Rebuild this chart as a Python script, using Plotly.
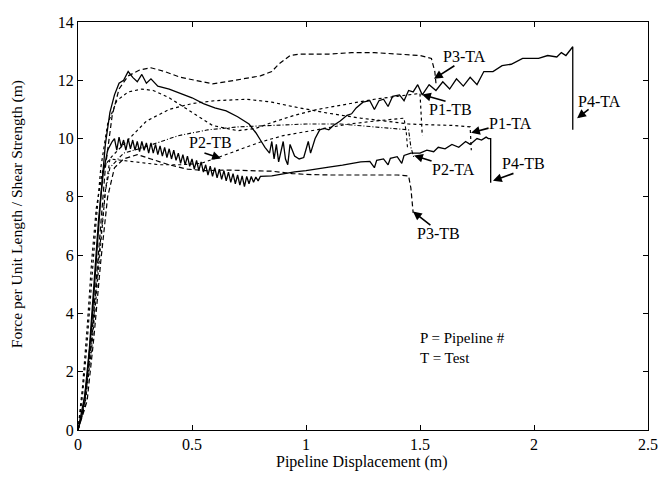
import plotly.graph_objects as go

# ---------------- data ----------------
p4ta_x = [0, 0.02, 0.04, 0.06, 0.08, 0.10, 0.12, 0.14, 0.16, 0.18, 0.20, 0.22, 0.24, 0.26, 0.28, 0.30,
          0.32, 0.35, 0.40, 0.45, 0.50, 0.55, 0.60, 0.65, 0.70, 0.75, 0.78, 0.80, 0.82, 0.84, 0.85, 0.86,
          0.87, 0.88, 0.90, 0.91, 0.92, 0.93, 0.95, 0.97, 0.99, 1.01, 1.02, 1.04, 1.06, 1.08, 1.10, 1.12,
          1.15, 1.18, 1.20, 1.22, 1.25, 1.28, 1.30, 1.32, 1.34, 1.36, 1.38, 1.41, 1.43, 1.45, 1.47, 1.49,
          1.51, 1.54, 1.57, 1.60, 1.63, 1.66, 1.69, 1.72, 1.75, 1.78, 1.82, 1.86, 1.90, 1.95, 1.98, 2.02,
          2.06, 2.10, 2.12, 2.14, 2.17, 2.17]
p4ta_y = [0, 0.6, 1.8, 3.6, 5.8, 8.0, 9.8, 10.9, 11.5, 11.9, 12.0, 12.3, 12.1, 11.95, 12.2, 11.9,
          12.05, 11.8, 11.7, 11.55, 11.4, 11.2, 11.05, 10.95, 10.75, 10.5, 10.2, 9.95, 9.7, 9.5, 9.9, 9.3,
          9.8, 9.2, 9.9, 9.3, 9.1, 9.8, 9.4, 9.3, 9.35, 9.9, 9.5, 10.0, 10.3, 10.35, 10.3, 10.45,
          10.6, 10.8, 10.85, 11.05, 11.25, 11.3, 11.0, 11.3, 11.35, 11.1, 11.45, 11.5, 11.3, 11.65, 11.6, 11.85,
          11.5, 11.85, 11.65, 11.95, 11.7, 12.05, 11.8, 12.1, 11.85, 12.3, 12.3, 12.5, 12.55, 12.75, 12.75, 12.75,
          12.85, 12.8, 12.95, 12.85, 13.15, 10.3]

p4tb_x = [0, 0.03, 0.05, 0.07, 0.09, 0.11, 0.13, 0.15,
          0.16, 0.17, 0.18, 0.19, 0.20, 0.21, 0.22, 0.23, 0.24, 0.25, 0.26, 0.27, 0.28, 0.29, 0.30, 0.31,
          0.32, 0.33, 0.34, 0.35, 0.36, 0.37, 0.38, 0.39, 0.40, 0.41, 0.42, 0.43, 0.44, 0.45, 0.46, 0.47,
          0.48, 0.49, 0.50, 0.51, 0.52, 0.53, 0.54, 0.55, 0.56, 0.57, 0.58, 0.59, 0.60, 0.61, 0.62, 0.63,
          0.64, 0.65, 0.66, 0.67, 0.68, 0.69, 0.70, 0.71, 0.72, 0.73, 0.74, 0.75, 0.76, 0.77, 0.78, 0.79,
          0.80, 0.85, 0.90, 0.95, 1.00, 1.05, 1.10, 1.16, 1.20, 1.24, 1.28, 1.30, 1.31, 1.34, 1.36, 1.37,
          1.40, 1.42, 1.43, 1.46, 1.50, 1.53, 1.56, 1.58, 1.61, 1.64, 1.67, 1.70, 1.72, 1.75, 1.77, 1.79,
          1.80, 1.81, 1.81]
p4tb_y = [0, 1.2, 2.8, 5.0, 7.2, 8.8, 9.6, 9.9,
          10.0, 9.6, 10.05, 9.7, 9.95, 9.6, 10.0, 9.65, 9.95, 9.6, 9.9, 9.55, 9.9, 9.6, 9.85, 9.5,
          9.85, 9.5, 9.8, 9.45, 9.75, 9.4, 9.7, 9.35, 9.65, 9.3, 9.6, 9.25, 9.5, 9.15, 9.45, 9.1,
          9.4, 9.05, 9.3, 8.95, 9.25, 8.9, 9.2, 8.85, 9.1, 8.75, 9.05, 8.7, 9.0, 8.65, 8.95, 8.6,
          8.9, 8.55, 8.85, 8.5, 8.8, 8.45, 8.75, 8.4, 8.72, 8.35, 8.7, 8.45, 8.7, 8.5, 8.68, 8.55,
          8.7, 8.72, 8.8, 8.86, 8.9, 8.95, 9.02, 9.09, 9.15, 9.2, 9.22, 9.0, 9.25, 9.3, 9.1, 9.32,
          9.38, 9.15, 9.42, 9.5, 9.5, 9.6, 9.55, 9.7, 9.65, 9.8, 9.7, 9.9, 9.8, 10.0, 9.95, 10.05,
          10.0, 10.0, 8.48]

p3ta_x = [0, 0.03, 0.06, 0.09, 0.12, 0.15, 0.18, 0.22, 0.27, 0.32, 0.38, 0.45, 0.52, 0.59, 0.65,
          0.72, 0.80, 0.85, 0.88, 0.93, 0.97, 1.10, 1.20, 1.30, 1.40, 1.50, 1.55, 1.565, 1.57]
p3ta_y = [0, 1.0, 3.2, 6.2, 9.0, 10.8, 11.7, 12.15, 12.35, 12.43, 12.3, 12.1, 12.0, 11.88, 11.95,
          12.05, 12.15, 12.3, 12.55, 12.85, 12.9, 12.9, 12.95, 12.95, 12.9, 12.85, 12.75, 12.3, 11.9]

p3tb_x = [0, 0.04, 0.07, 0.10, 0.13, 0.16, 0.20, 0.26, 0.32, 0.40, 0.48, 0.56, 0.65, 0.75, 0.85,
          0.94, 1.00, 1.10, 1.20, 1.30, 1.40, 1.45, 1.46, 1.47]
p3tb_y = [0, 1.0, 3.2, 5.8, 8.0, 9.0, 9.3, 9.45, 9.3, 9.1, 8.95, 8.9, 8.92, 8.9, 8.88,
          8.8, 8.77, 8.75, 8.75, 8.75, 8.75, 8.72, 8.3, 7.45]

p1ta_x = [0, 0.02, 0.04, 0.06, 0.08, 0.11, 0.15, 0.20, 0.25, 0.30, 0.40, 0.50, 0.60, 0.74, 0.85,
          0.94, 1.09, 1.24, 1.35, 1.45, 1.55, 1.65, 1.72, 1.725]
p1ta_y = [0, 1.5, 3.5, 5.8, 7.6, 9.0, 9.4, 9.8, 10.2, 10.6, 11.0, 11.2, 11.3, 11.35, 11.25,
          11.1, 10.88, 10.7, 10.6, 10.5, 10.47, 10.45, 10.4, 9.6]

p1tb_x = [0, 0.02, 0.04, 0.06, 0.08, 0.10, 0.13, 0.17, 0.22, 0.28, 0.33, 0.40, 0.50, 0.59, 0.70,
          0.78, 0.85, 0.95, 1.05, 1.19, 1.30, 1.40, 1.50, 1.51]
p1tb_y = [0, 1.2, 3.0, 5.2, 7.2, 9.0, 10.5, 11.3, 11.6, 11.7, 11.65, 11.4, 10.9, 10.45, 10.27,
          10.35, 10.55, 10.8, 11.0, 11.2, 11.35, 11.45, 11.55, 10.1]

p2ta_x = [0, 0.03, 0.06, 0.09, 0.12, 0.14, 0.20, 0.29, 0.44, 0.57, 0.70, 0.85, 1.00, 1.15, 1.30,
          1.43, 1.45, 1.46, 1.47, 1.475]
p2ta_y = [0, 0.9, 3.0, 5.8, 8.2, 9.0, 9.5, 9.7, 10.1, 10.3, 10.4, 10.45, 10.5, 10.5, 10.4,
          10.33, 10.3, 9.7, 9.45, 9.3]

p2tb_x = [0, 0.03, 0.06, 0.09, 0.12, 0.14, 0.20, 0.30, 0.36, 0.45, 0.54, 0.62, 0.70, 0.80, 0.90,
          0.97, 1.09, 1.19, 1.30, 1.43, 1.44, 1.445]
p2tb_y = [0, 0.8, 2.8, 5.5, 8.2, 9.3, 9.25, 9.15, 9.1, 9.1, 9.15, 9.37, 9.6, 9.88, 10.1,
          10.2, 10.38, 10.5, 10.6, 10.7, 10.2, 9.7]

x_ticks = [0, 0.5, 1, 1.5, 2, 2.5]
x_tick_text = ["0", "0.5", "1", "1.5", "2", "2.5"]
y_ticks = [0, 2, 4, 6, 8, 10, 12, 14]

x_title = "Pipeline Displacement (m)"
y_title = "Force per Unit Length / Shear Strength (m)"

# labels: text, text position (x, y), arrow tip (x, y), arrow tail offset in px (ax, ay)
label_text = ["P3-TA", "P1-TB", "P1-TA", "P2-TA", "P4-TB", "P4-TA", "P2-TB", "P3-TB"]
label_pos_x = [1.693, 1.632, 1.895, 1.645, 1.952, 2.289, 0.579, 1.579]
label_pos_y = [12.81, 11.0, 10.53, 8.95, 9.15, 11.27, 9.86, 6.73]
arrow_tip_x = [1.561, 1.509, 1.724, 1.474, 1.820, 2.189, 0.627, 1.469]
arrow_tip_y = [12.05, 11.51, 10.20, 9.42, 8.55, 10.70, 9.32, 7.50]
arrow_ax = [22, 25, 19, 19, 22, 13, -18, 19]
arrow_ay = [-14, 7, -5, 6, -8, -10, -6, 15]

FONT = "Liberation Serif, Times New Roman, serif"

# page body has an 8px default margin; compensate so the plot area sits at
# x 78..648 and y 14..430 inside the 667x479 window
BODY = 8
PL, PR, PT, PB = 78, 648, 14, 430
W, H = 667 - BODY, 479 - BODY
PW, PH = PR - PL, PB - PT

fig = go.Figure()

def add(x, y, dash, width=1.2):
    fig.add_trace(go.Scatter(x=x, y=y, mode="lines",
                             line=dict(color="black", width=width, dash=dash),
                             showlegend=False, hoverinfo="skip"))

add(p1ta_x, p1ta_y, "dot", 1.2)
add(p1tb_x, p1tb_y, "dot", 1.2)
add(p2ta_x, p2ta_y, "4px,2px,1px,2px", 1.1)
add(p2tb_x, p2tb_y, "3px,3px", 1.1)
add(p3ta_x, p3ta_y, "5px,3px", 1.2)
add(p3tb_x, p3tb_y, "5px,3px", 1.2)
add(p4ta_x, p4ta_y, "solid", 1.3)
add(p4tb_x, p4tb_y, "solid", 1.3)

axis_common = dict(showline=True, linecolor="black", linewidth=1, mirror="ticks",
                   ticks="inside", ticklen=5, tickcolor="black", tickwidth=1,
                   showgrid=False, zeroline=False, ticklabeloverflow="allow",
                   tickfont=dict(family=FONT, size=16, color="black"))

fig.update_xaxes(range=[0, 2.5], tickvals=x_ticks, ticktext=x_tick_text, **axis_common)
fig.update_yaxes(range=[0, 14], tickvals=y_ticks, **axis_common)

annotations = []
for i in range(len(label_text)):
    annotations.append(dict(x=label_pos_x[i], y=label_pos_y[i], xref="x", yref="y",
                            text=label_text[i], showarrow=False,
                            font=dict(family=FONT, size=16, color="black")))
    annotations.append(dict(x=arrow_tip_x[i], y=arrow_tip_y[i], xref="x", yref="y",
                            text="", showarrow=True, ax=arrow_ax[i], ay=arrow_ay[i],
                            arrowhead=2, arrowsize=1.1, arrowwidth=1.6, arrowcolor="black",
                            standoff=0, startstandoff=0))

annotations.append(dict(x=(418 - PL) / PW, y=(PB - 339) / PH, xref="paper", yref="paper",
                        text="P = Pipeline #<br>T = Test", showarrow=False, align="left",
                        xanchor="left", yanchor="middle", yshift=-7,
                        font=dict(family=FONT, size=15, color="black")))
annotations.append(dict(x=(362 - PL) / PW, y=-(463 - PB) / PH, xref="paper", yref="paper",
                        text=x_title, showarrow=False, xanchor="center", yanchor="middle",
                        font=dict(family=FONT, size=16, color="black")))
annotations.append(dict(x=(17 - PL) / PW, y=(PB - 210) / PH, xref="paper", yref="paper",
                        text=y_title, showarrow=False, textangle=-90,
                        xanchor="center", yanchor="middle",
                        font=dict(family=FONT, size=15.5, color="black")))

fig.update_layout(width=W, height=H,
                  margin=dict(l=PL - BODY, r=667 - PR, t=PT - BODY, b=479 - PB),
                  paper_bgcolor="white", plot_bgcolor="white",
                  annotations=annotations)

fig.write_html("out.html")
